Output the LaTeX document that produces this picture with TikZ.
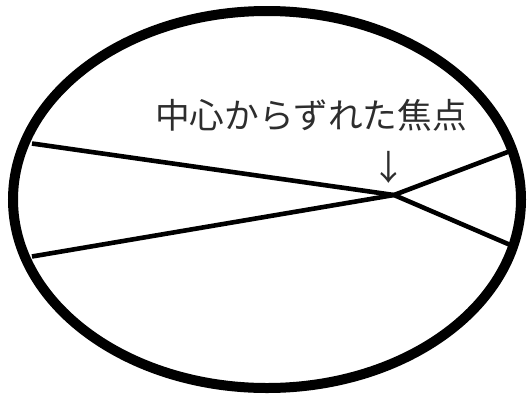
\documentclass[tikz,border=0pt]{standalone}
\usepackage{fontspec}
\newfontfamily\cjk{Noto Sans CJK JP}
\definecolor{txtgray}{RGB}{45,45,45}
\begin{document}
\begin{tikzpicture}[x=1pt,y=-1pt,
  rim/.style={line width=10pt,black},
  ray/.style={line width=4.6pt,black,line join=miter},
  label/.style={inner sep=0pt,font=\cjk\fontsize{34.7}{40}\selectfont,text=txtgray}]
\useasboundingbox (0,0) rectangle (527,394);
\fill[white] (0,0) rectangle (527,394);
\draw[rim] (267,199.5) ellipse [x radius=254, y radius=188.5];
\coordinate (F) at (394,195);
\coordinate (LA) at (32,143.5);
\coordinate (RA) at (515,247);
\coordinate (LB) at (32,256.5);
\coordinate (RB) at (513,150);
\draw[ray] (LA) -- (F) -- (RA);
\draw[ray] (LB) -- (F) -- (RB);
\node[label] (title) at (311,115) {中心からずれた焦点};
\node[label] (arrow) at (389,167) {↓};
\end{tikzpicture}
\end{document}
